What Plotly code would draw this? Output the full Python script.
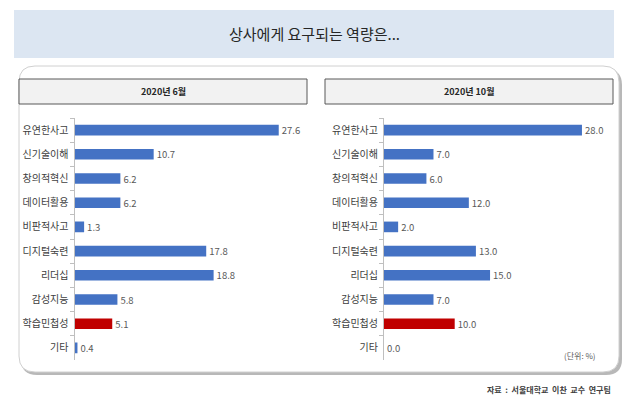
import plotly.graph_objects as go

W, H = 630, 400

categories = ["유연한사고", "신기술이해", "창의적혁신", "데이터활용", "비판적사고",
              "디지털숙련", "리더십", "감성지능", "학습민첩성", "기타"]
june_values = [27.6, 10.7, 6.2, 6.2, 1.3, 17.8, 18.8, 5.8, 5.1, 0.4]
oct_values = [28.0, 7.0, 6.0, 12.0, 2.0, 13.0, 15.0, 7.0, 10.0, 0.0]
highlight = "학습민첩성"
panel_titles = ["2020년 6월", "2020년 10월"]
main_title = "상사에게 요구되는 역량은..."
unit_note = "(단위: %)"
source_note = "자료  :  서울대학교  이찬  교수  연구팀"

BLUE = "#4472C4"
RED = "#C00000"
FONT = "Noto Sans CJK KR"


def px(x):
    return x / W


def py(y):
    return 1 - y / H


def rrect(x0, y0, x1, y1, r):
    pts = [
        f"M {px(x0 + r)},{py(y0)}",
        f"L {px(x1 - r)},{py(y0)}",
        f"Q {px(x1)},{py(y0)} {px(x1)},{py(y0 + r)}",
        f"L {px(x1)},{py(y1 - r)}",
        f"Q {px(x1)},{py(y1)} {px(x1 - r)},{py(y1)}",
        f"L {px(x0 + r)},{py(y1)}",
        f"Q {px(x0)},{py(y1)} {px(x0)},{py(y1 - r)}",
        f"L {px(x0)},{py(y0 + r)}",
        f"Q {px(x0)},{py(y0)} {px(x0 + r)},{py(y0)}",
        "Z",
    ]
    return " ".join(pts)


colors = [RED if c == highlight else BLUE for c in categories]

fig = go.Figure()

for vals, xa, ya in [(june_values, "x", "y"), (oct_values, "x2", "y2")]:
    fig.add_trace(go.Bar(
        y=categories, x=vals, orientation="h",
        marker=dict(color=colors, line=dict(width=0)),
        texttemplate="%{x:.1f}", textposition="outside",
        constraintext="none",
        textfont=dict(family=FONT, size=9.5, color="#595959"),
        cliponaxis=False, width=0.44,
        xaxis=xa, yaxis=ya, showlegend=False, hoverinfo="skip",
    ))

y_top, y_bot = 118, 360
xscale_left = 7.40
xscale_right = 7.07
xmax = 30

axis_common_x = dict(range=[0, xmax], showgrid=False, zeroline=False,
                     showticklabels=False, showline=False, fixedrange=True)
axis_common_y = dict(autorange="reversed", showgrid=False, zeroline=False,
                     showline=True, linecolor="#bfbfbf", linewidth=1,
                     ticks="outside", ticklen=4, tickcolor="#bfbfbf",
                     tickson="boundaries", ticklabelstandoff=3,
                     tickfont=dict(family=FONT, size=10, color="#404040"),
                     domain=[py(y_bot), py(y_top)])

fig.update_layout(
    width=W, height=H, margin=dict(l=0, r=0, t=0, b=0),
    paper_bgcolor="white", plot_bgcolor="rgba(0,0,0,0)",
    xaxis=dict(domain=[px(74.5), px(74.5 + xmax * xscale_left)], anchor="y", **axis_common_x),
    yaxis=dict(anchor="x", **axis_common_y),
    xaxis2=dict(domain=[px(384), px(384 + xmax * xscale_right)], anchor="y2", **axis_common_x),
    yaxis2=dict(anchor="x2", **axis_common_y),
)

shapes = []
shapes.append(dict(type="rect", xref="paper", yref="paper",
                   x0=px(14), x1=px(614), y0=py(58), y1=py(10),
                   fillcolor="#DCE6F2", line=dict(width=0), layer="below"))
shapes.append(dict(type="path", xref="paper", yref="paper",
                   path=rrect(21, 69, 622, 375, 16),
                   fillcolor="#a6a6a6", line=dict(width=0), layer="below", opacity=0.8))
shapes.append(dict(type="path", xref="paper", yref="paper",
                   path=rrect(19, 66, 619, 372, 16),
                   fillcolor="white", line=dict(color="#d0d0d0", width=1), layer="below"))
for (x0, x1) in [(19, 307), (325, 613)]:
    shapes.append(dict(type="rect", xref="paper", yref="paper",
                       x0=px(x0), x1=px(x1), y0=py(104), y1=py(79),
                       fillcolor="#f2f2f2", line=dict(color="#595959", width=1),
                       layer="below"))
fig.update_layout(shapes=shapes)

annotations = [
    dict(text=main_title, x=px(314), y=py(34), xref="paper", yref="paper",
         showarrow=False, font=dict(family=FONT, size=15, color="#262626"),
         xanchor="center", yanchor="middle"),
    dict(text=f"<b>{panel_titles[0]}</b>", x=px(163), y=py(91.5), xref="paper", yref="paper",
         showarrow=False, font=dict(family=FONT, size=9, color="#262626"),
         xanchor="center", yanchor="middle"),
    dict(text=f"<b>{panel_titles[1]}</b>", x=px(469), y=py(91.5), xref="paper", yref="paper",
         showarrow=False, font=dict(family=FONT, size=9, color="#262626"),
         xanchor="center", yanchor="middle"),
    dict(text=unit_note, x=px(598), y=py(355), xref="paper", yref="paper",
         showarrow=False, font=dict(family=FONT, size=8, color="#595959"),
         xanchor="right", yanchor="middle"),
    dict(text=f"<b>{source_note}</b>", x=px(613), y=py(389), xref="paper", yref="paper",
         showarrow=False, font=dict(family=FONT, size=8, color="#404040"),
         xanchor="right", yanchor="middle"),
]
fig.update_layout(annotations=annotations)

fig.write_html("out.html")
